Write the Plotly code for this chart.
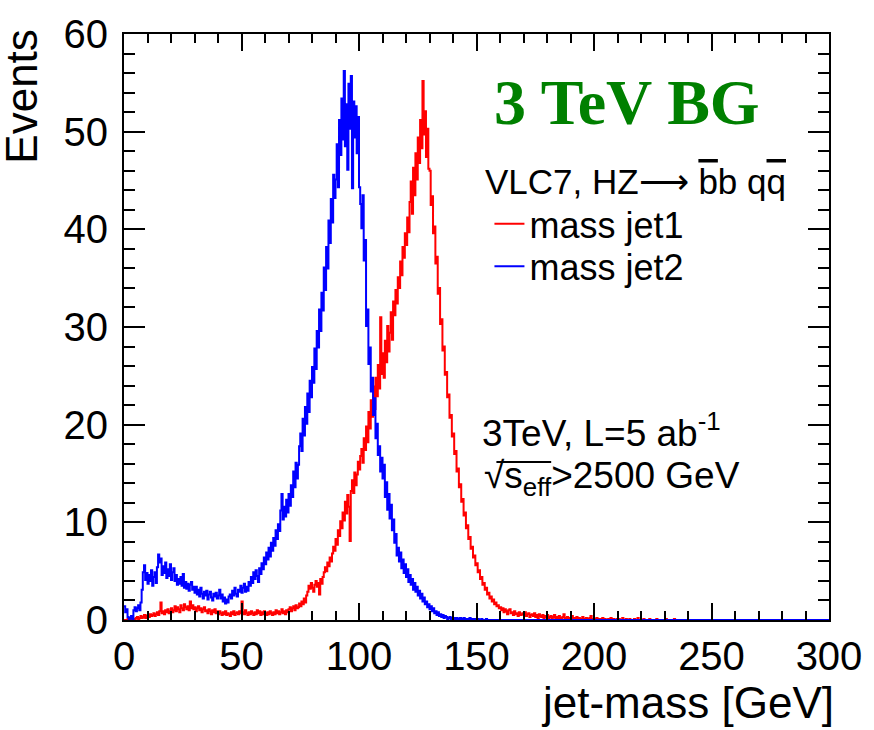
import numpy as np
import plotly.graph_objects as go

# 0.5 GeV bins from 0 to 300 GeV
BIN_WIDTH = 0.5
X_MIN, X_MAX = 0, 300

# mass jet2 (blue), events per bin (each row = 10 GeV)
jet2_mass = [
    1.4, 0.8, 1.1, 0.3, 0.1, 0.2, 0.4, 0.1, 1.0, 1.3, 0.9, 1.2, 1.5, 1.0, 1.8, 3.1, 4.9, 5.6, 4.1, 4.8,
    3.7, 4.6, 4.0, 5.1, 3.5, 4.4, 4.9, 3.8, 5.4, 6.7, 5.9, 6.3, 4.6, 5.5, 4.8, 5.9, 4.3, 5.2, 4.5, 5.7,
    4.1, 4.9, 5.3, 4.0, 4.6, 3.6, 4.2, 3.7, 4.4, 3.5, 4.7, 3.3, 3.9, 3.2, 3.7, 3.0, 3.6, 3.9, 3.1, 3.4,
    2.8, 3.4, 2.6, 3.1, 2.4, 3.3, 2.7, 2.2, 2.9, 2.5, 3.0, 2.1, 2.6, 2.9, 2.3, 2.0, 2.7, 2.4, 2.8, 2.2,
    2.5, 3.1, 2.2, 2.6, 1.9, 2.3, 1.7, 2.1, 1.8, 2.4, 2.6, 2.2, 3.0, 2.5, 3.3, 2.7, 2.4, 3.1, 2.9, 3.5,
    2.8, 3.3, 3.7, 2.9, 3.4, 3.0, 3.9, 3.5, 4.4, 3.8, 4.9, 4.2, 5.1, 4.5, 3.9, 5.3, 4.7, 5.8, 5.2, 6.4,
    5.7, 6.9, 6.2, 7.4, 6.5, 7.9, 7.1, 8.4, 7.6, 9.2, 8.3, 9.8, 9.1, 11.2, 12.9, 10.3, 11.6, 10.6, 12.3, 11.0,
    12.9, 11.7, 13.8, 12.6, 15.2, 13.6, 16.1, 14.5, 15.9, 17.8, 19.1, 17.3, 20.6, 18.9, 21.8, 20.1, 23.2, 21.3, 24.5, 22.8,
    25.9, 24.3, 27.8, 25.7, 29.6, 27.9, 31.8, 29.6, 33.5, 31.7, 36.1, 33.8, 38.2, 36.0, 40.9, 38.6, 43.1, 40.7, 45.6, 43.2,
    45.1, 48.7, 44.3, 51.2, 47.6, 53.4, 49.2, 56.2, 48.5, 52.8, 46.1, 54.9, 50.3, 55.7, 44.2, 53.1, 49.4, 52.6, 47.8, 51.5,
    44.3, 42.6, 40.1, 43.5, 36.8, 38.9, 30.1, 31.8, 26.2, 27.9, 23.4, 24.8, 21.0, 22.7, 18.6, 20.1, 16.9, 17.8, 15.2, 16.6,
    14.5, 15.9, 12.6, 14.1, 11.3, 12.9, 10.4, 11.8, 9.2, 10.3, 7.9, 8.8, 6.6, 7.4, 6.0, 6.9, 5.3, 6.2, 4.8, 5.7,
    4.4, 5.2, 3.9, 4.6, 3.6, 4.2, 3.1, 3.8, 2.9, 3.4, 2.5, 3.0, 2.2, 2.7, 1.9, 2.3, 1.6, 1.9, 1.3, 1.6,
    1.1, 1.4, 0.9, 1.2, 0.7, 0.9, 0.5, 0.8, 0.4, 0.6, 0.3, 0.5, 0.2, 0.4, 0.3, 0.1, 0.2, 0.3, 0.1, 0.2,
    0.1, 0.2, 0.0, 0.2, 0.1, 0.1, 0.2, 0.0, 0.1, 0.2, 0.0, 0.1, 0.1, 0.0, 0.2, 0.0, 0.1, 0.0, 0.1, 0.0,
    0.0, 0.1, 0.0, 0.0, 0.1, 0.0, 0.0, 0.0, 0.1, 0.0, 0.0, 0.0, 0.0, 0.0, 0.0, 0.0, 0.0, 0.0, 0.0, 0.0,
    0.0, 0.0, 0.0, 0.0, 0.0, 0.0, 0.0, 0.0, 0.0, 0.0, 0.0, 0.0, 0.0, 0.0, 0.0, 0.0, 0.0, 0.0, 0.0, 0.0,
    0.0, 0.0, 0.0, 0.0, 0.0, 0.0, 0.0, 0.0, 0.0, 0.0, 0.0, 0.0, 0.0, 0.0, 0.0, 0.0, 0.0, 0.0, 0.0, 0.0,
    0.0, 0.0, 0.0, 0.0, 0.0, 0.0, 0.0, 0.0, 0.0, 0.0, 0.0, 0.0, 0.0, 0.0, 0.0, 0.0, 0.0, 0.0, 0.0, 0.0,
    0.0, 0.0, 0.0, 0.0, 0.0, 0.0, 0.0, 0.0, 0.0, 0.0, 0.0, 0.0, 0.0, 0.0, 0.0, 0.0, 0.0, 0.0, 0.0, 0.0,
    0.0, 0.0, 0.0, 0.0, 0.0, 0.0, 0.0, 0.0, 0.0, 0.0, 0.0, 0.0, 0.0, 0.0, 0.0, 0.0, 0.0, 0.0, 0.0, 0.0,
    0.0, 0.0, 0.0, 0.0, 0.0, 0.0, 0.0, 0.0, 0.0, 0.0, 0.0, 0.0, 0.0, 0.0, 0.0, 0.0, 0.0, 0.0, 0.0, 0.0,
    0.0, 0.0, 0.0, 0.0, 0.0, 0.0, 0.0, 0.0, 0.0, 0.0, 0.0, 0.0, 0.0, 0.0, 0.0, 0.0, 0.0, 0.0, 0.0, 0.0,
    0.0, 0.0, 0.0, 0.0, 0.0, 0.0, 0.0, 0.0, 0.0, 0.0, 0.0, 0.0, 0.0, 0.0, 0.0, 0.0, 0.0, 0.0, 0.0, 0.0,
    0.0, 0.0, 0.0, 0.0, 0.0, 0.0, 0.0, 0.0, 0.0, 0.0, 0.0, 0.0, 0.0, 0.0, 0.0, 0.0, 0.0, 0.0, 0.0, 0.0,
    0.0, 0.0, 0.0, 0.0, 0.0, 0.0, 0.0, 0.0, 0.0, 0.0, 0.0, 0.0, 0.0, 0.0, 0.0, 0.0, 0.0, 0.0, 0.0, 0.0,
    0.0, 0.0, 0.0, 0.0, 0.0, 0.0, 0.0, 0.0, 0.0, 0.0, 0.0, 0.0, 0.0, 0.0, 0.0, 0.0, 0.0, 0.0, 0.0, 0.0,
    0.0, 0.0, 0.0, 0.0, 0.0, 0.0, 0.0, 0.0, 0.0, 0.0, 0.0, 0.0, 0.0, 0.0, 0.0, 0.0, 0.0, 0.0, 0.0, 0.0,
    0.0, 0.0, 0.0, 0.0, 0.0, 0.0, 0.0, 0.0, 0.0, 0.0, 0.0, 0.0, 0.0, 0.0, 0.0, 0.0, 0.0, 0.0, 0.0, 0.0,
    0.0, 0.0, 0.0, 0.0, 0.0, 0.0, 0.0, 0.0, 0.0, 0.0, 0.0, 0.0, 0.0, 0.0, 0.0, 0.0, 0.0, 0.0, 0.0, 0.0,
]

# mass jet1 (red), events per bin (each row = 10 GeV)
jet1_mass = [
    0.0, 0.0, 0.0, 0.1, 0.0, 0.1, 0.2, 0.0, 0.1, 0.0, 0.2, 0.3, 0.1, 0.2, 0.4, 0.2, 0.3, 0.5, 0.2, 0.4,
    0.5, 0.3, 0.6, 0.4, 0.5, 0.7, 0.4, 0.6, 0.8, 0.5, 0.9, 1.8, 0.7, 0.9, 0.6, 1.0, 0.8, 1.1, 0.7, 0.9,
    1.2, 0.8, 1.0, 1.4, 0.9, 1.3, 1.1, 0.8, 1.5, 1.2, 1.0, 1.6, 1.3, 1.1, 1.4, 1.0, 1.9, 1.2, 1.5, 1.1,
    1.3, 0.9, 1.2, 1.4, 1.0, 1.2, 0.8, 1.1, 1.3, 0.9, 1.0, 0.7, 1.1, 0.9, 0.6, 1.0, 0.8, 1.1, 0.7, 0.9,
    0.6, 0.9, 0.7, 0.5, 0.8, 0.6, 0.9, 0.5, 0.7, 0.6, 0.4, 0.8, 0.6, 0.9, 0.5, 0.7, 0.8, 0.6, 0.9, 0.7,
    1.9, 0.8, 0.6, 1.0, 0.7, 0.5, 0.8, 0.6, 0.9, 0.7, 0.5, 0.8, 0.6, 1.0, 0.7, 0.9, 0.5, 0.8, 0.6, 0.9,
    0.7, 0.5, 0.8, 0.6, 0.9, 0.7, 0.5, 0.8, 0.6, 1.0, 0.7, 0.9, 0.6, 0.8, 1.1, 0.7, 0.9, 0.6, 1.0, 0.8,
    1.1, 1.3, 0.9, 1.2, 1.4, 1.0, 1.5, 1.2, 1.3, 1.7, 1.4, 1.9, 1.6, 2.2, 1.8, 2.5, 2.9, 3.5, 3.2, 3.8,
    3.3, 2.9, 3.6, 4.0, 3.4, 3.8, 2.6, 4.2, 3.7, 4.4, 4.9, 5.4, 5.0, 5.9, 5.5, 6.4, 6.0, 6.8, 7.5, 7.1,
    8.3, 7.7, 9.2, 8.6, 10.1, 9.4, 11.0, 10.2, 12.1, 10.9, 12.8, 11.6, 8.1, 13.2, 14.3, 13.0, 15.1, 13.8, 14.9, 16.2,
    15.4, 16.8, 17.5, 16.1, 18.6, 17.4, 19.8, 18.2, 21.3, 19.6, 22.5, 20.8, 23.9, 21.6, 24.8, 22.9, 26.1, 23.7, 31.0, 25.2,
    27.3, 24.8, 28.6, 26.4, 30.1, 27.5, 29.4, 31.5, 28.7, 32.6, 31.2, 33.8, 32.4, 35.1, 34.0, 36.7, 35.3, 38.2, 37.1, 39.6,
    38.4, 41.2, 39.7, 42.8, 44.9, 41.6, 46.3, 43.5, 47.8, 45.1, 49.4, 46.8, 51.2, 48.3, 55.2, 49.7, 52.1, 47.4, 50.3, 46.2,
    46.0, 42.5, 43.4, 39.6, 40.3, 36.5, 37.2, 33.4, 34.0, 30.3, 30.8, 27.6, 28.0, 25.1, 25.4, 22.8, 23.1, 20.7, 21.0, 18.8,
    19.1, 17.0, 17.3, 15.2, 15.5, 13.6, 13.9, 12.1, 12.4, 10.7, 11.0, 9.4, 9.7, 8.3, 8.5, 7.3, 7.5, 6.4, 6.6, 5.6,
    5.8, 4.9, 5.1, 4.2, 4.4, 3.6, 3.8, 3.1, 3.3, 2.6, 2.8, 2.2, 2.4, 1.9, 2.1, 1.6, 1.8, 1.4, 1.5, 1.2,
    1.3, 1.0, 1.2, 0.8, 1.1, 0.9, 0.6, 1.0, 1.1, 0.7, 0.8, 0.5, 0.9, 0.6, 0.7, 0.4, 0.8, 0.5, 0.6, 0.7,
    0.5, 0.8, 0.4, 0.6, 0.7, 0.3, 0.5, 0.6, 0.4, 0.7, 0.3, 0.5, 0.2, 0.6, 0.4, 0.3, 0.5, 0.2, 0.4, 0.3,
    0.5, 0.2, 0.3, 0.4, 0.1, 0.3, 0.5, 0.2, 0.3, 0.1, 0.4, 0.2, 0.1, 0.3, 0.6, 0.2, 0.1, 0.3, 0.2, 0.1,
    0.2, 0.4, 0.1, 0.2, 0.0, 0.3, 0.1, 0.2, 0.0, 0.1, 0.3, 0.1, 0.0, 0.2, 0.1, 0.0, 0.2, 0.4, 0.1, 0.0,
    0.1, 0.0, 0.2, 0.1, 0.0, 0.1, 0.0, 0.2, 0.0, 0.1, 0.0, 0.0, 0.1, 0.0, 0.2, 0.0, 0.1, 0.0, 0.0, 0.1,
    0.0, 0.1, 0.0, 0.0, 0.2, 0.0, 0.0, 0.1, 0.0, 0.0, 0.1, 0.0, 0.0, 0.0, 0.1, 0.0, 0.0, 0.2, 0.0, 0.0,
    0.0, 0.0, 0.1, 0.0, 0.0, 0.0, 0.0, 0.1, 0.0, 0.0, 0.0, 0.0, 0.0, 0.1, 0.0, 0.0, 0.0, 0.0, 0.0, 0.0,
    0.0, 0.1, 0.0, 0.0, 0.0, 0.0, 0.0, 0.0, 0.1, 0.0, 0.0, 0.0, 0.0, 0.0, 0.0, 0.0, 0.0, 0.0, 0.0, 0.0,
    0.0, 0.0, 0.0, 0.0, 0.0, 0.0, 0.0, 0.0, 0.0, 0.0, 0.0, 0.0, 0.0, 0.0, 0.0, 0.0, 0.0, 0.0, 0.0, 0.0,
    0.0, 0.0, 0.0, 0.0, 0.0, 0.0, 0.0, 0.0, 0.0, 0.0, 0.0, 0.0, 0.0, 0.0, 0.0, 0.0, 0.0, 0.0, 0.0, 0.0,
    0.0, 0.0, 0.0, 0.0, 0.0, 0.0, 0.0, 0.0, 0.0, 0.0, 0.0, 0.0, 0.0, 0.0, 0.0, 0.0, 0.0, 0.0, 0.0, 0.0,
    0.0, 0.0, 0.0, 0.0, 0.0, 0.0, 0.0, 0.0, 0.0, 0.0, 0.0, 0.0, 0.0, 0.0, 0.0, 0.0, 0.0, 0.0, 0.0, 0.0,
    0.0, 0.0, 0.0, 0.0, 0.0, 0.0, 0.0, 0.0, 0.0, 0.0, 0.0, 0.0, 0.0, 0.0, 0.0, 0.0, 0.0, 0.0, 0.0, 0.0,
    0.0, 0.0, 0.0, 0.0, 0.0, 0.0, 0.0, 0.0, 0.0, 0.0, 0.0, 0.0, 0.0, 0.0, 0.0, 0.0, 0.0, 0.0, 0.0, 0.0,
]

x_tick_vals = [0, 50, 100, 150, 200, 250, 300]
y_tick_vals = [0, 10, 20, 30, 40, 50, 60]

edges = X_MIN + BIN_WIDTH * np.arange(len(jet1_mass) + 1)


def step_xy(vals):
    return list(edges), list(vals) + [vals[-1]]


FONT = "Liberation Sans, Arial, Helvetica, sans-serif"

L, R, T, B = 124, 42, 27, 110
W, H = 874, 730
PW, PH = W - L - R, H - T - B


def px(xp):
    return (xp - L) / PW


def py(yp):
    return (H - B - yp) / PH


fig = go.Figure()
xr, yr = step_xy(jet1_mass)
fig.add_trace(go.Scatter(x=xr, y=yr, mode="lines", line=dict(color="#ff0000", width=2, shape="hv"),
                         name="mass jet1", legend="legend"))
xb, yb = step_xy(jet2_mass)
fig.add_trace(go.Scatter(x=xb, y=yb, mode="lines", line=dict(color="#0000ff", width=2, shape="hv"),
                         name="mass jet2", legend="legend2"))

leg_common = dict(xanchor="left", yanchor="middle", bgcolor="rgba(0,0,0,0)",
                  font=dict(family=FONT, size=36, color="black"), itemwidth=30)

# radical bar over s_eff (text decoration drawn as a paper-referenced line)
radical_bar = dict(type="line", xref="paper", yref="paper",
                   x0=px(498), x1=px(553), y0=py(460), y1=py(460),
                   line=dict(color="black", width=2), layer="above")

fig.update_layout(
    width=W, height=H,
    margin=dict(l=L, r=R, t=T, b=B, pad=0),
    paper_bgcolor="white", plot_bgcolor="white",
    showlegend=True,
    legend=dict(x=px(491), y=py(219), **leg_common),
    legend2=dict(x=px(491), y=py(262), **leg_common),
    font=dict(family=FONT, color="black"),
    shapes=[radical_bar],
)

fig.update_xaxes(
    range=[X_MIN, X_MAX], tickvals=x_tick_vals, ticks="inside", ticklen=17, tickwidth=2,
    tickcolor="black", showline=True, linewidth=2, linecolor="black", mirror="ticks",
    showgrid=False, zeroline=False, tickfont=dict(family=FONT, size=40, color="black"),
    minor=dict(dtick=10, ticks="inside", ticklen=9, tickwidth=2, tickcolor="black", showgrid=False),
)
fig.update_yaxes(
    range=[0, 60], tickvals=y_tick_vals, ticks="inside", ticklen=21, tickwidth=2,
    tickcolor="black", showline=True, linewidth=2, linecolor="black", mirror="ticks",
    showgrid=False, zeroline=False, tickfont=dict(family=FONT, size=40, color="black"),
    ticklabelstandoff=6,
    minor=dict(dtick=2, ticks="inside", ticklen=11, tickwidth=2, tickcolor="black", showgrid=False),
)

OVL = "<span style='text-decoration:overline'>{}</span>"
ann = [
    dict(text="Events", x=px(21), y=py(90), textangle=-90, font=dict(family=FONT, size=44)),
    dict(text="jet-mass [GeV]", x=px(839), y=py(703), xanchor="right", font=dict(family=FONT, size=44)),
    dict(text="<b>3 TeV BG</b>", x=px(494), y=py(96), xanchor="left",
         font=dict(family="Liberation Serif, Times New Roman, serif", size=64, color="rgb(0,128,0)")),
    dict(text="VLC7, HZ⟶ " + OVL.format("b") + "b q" + OVL.format("q"),
         x=px(485), y=py(176), xanchor="left", font=dict(family=FONT, size=35)),
    dict(text="3TeV, L=5 ab<sup>-1</sup>", x=px(482), y=py(428), xanchor="left", font=dict(family=FONT, size=37)),
    dict(text="√s<sub>eff</sub>>2500 GeV", x=px(484), y=py(476),
         xanchor="left", font=dict(family=FONT, size=37)),
]
for a in ann:
    a.setdefault("xref", "paper")
    a.setdefault("yref", "paper")
    a.setdefault("showarrow", False)
    a.setdefault("xanchor", "center")
    a.setdefault("yanchor", "middle")
    a["font"].setdefault("color", "black")
fig.update_layout(annotations=ann)

fig.write_html("out.html")
